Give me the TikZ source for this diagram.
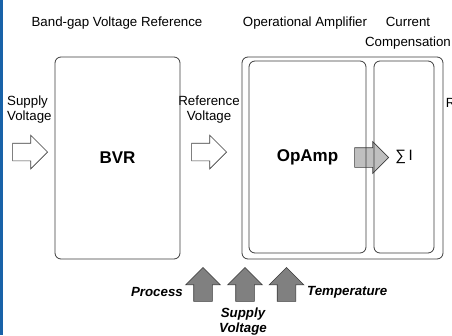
\documentclass[tikz,border=0pt]{standalone}
\usepackage{fontspec}
\setmainfont{Liberation Sans}
\usetikzlibrary{shapes.arrows,positioning}

\definecolor{edgeblue}{RGB}{24,98,168}
\definecolor{boxline}{RGB}{60,60,60}

\tikzset{
  txt/.style={inner sep=0pt, font=\fontsize{13.3}{15}\selectfont},
  influence/.style={inner sep=0pt, font=\fontsize{13.3}{15}\selectfont\bfseries\itshape},
  block/.style={draw=boxline, line width=0.8pt, rounded corners=6pt, inner sep=0pt},
  blockname/.style={font=\fontsize{17}{20}\selectfont\bfseries},
  bigarrow/.style={single arrow, draw=boxline, line width=0.6pt, inner xsep=0pt,
    inner ysep=8.5pt, single arrow head extend=8pt, anchor=tip},
}

\begin{document}
\begin{tikzpicture}[x=1pt,y=-1pt]
\useasboundingbox (0,0) rectangle (452,335);
\fill[edgeblue] (0,0) rectangle (2.5,335);

\node[txt] (t1) at (117,23) {Band-gap Voltage Reference};
\node[txt] (t2) at (305,23) {Operational Amplifier};
\node[txt, align=center, font=\fontsize{13.3}{20}\selectfont] (t3) at (408,33) {Current\\Compensation};

\node[txt, align=left, anchor=west] (sv) at (7,110) {Supply\\Voltage};
\node[txt, align=center] (rv) at (209,110) {Reference\\Voltage};
\node[txt, align=center] (rc) at (476.5,110) {Reference\\Current};

\node[bigarrow, fill=white, minimum height=35pt] (a1) at (48,152) {};
\node[bigarrow, fill=white, minimum height=35pt] (a2) at (227,152) {};
\node[bigarrow, fill=black!25, minimum height=34pt, inner ysep=9.5pt,
  single arrow head extend=6pt] (a3) at (389,157.5) {};

\node[block, blockname, minimum width=125pt, minimum height=202pt] (bvr) at (117.5,158) {BVR};
\node[block, minimum width=201pt, minimum height=202pt] (amp) at (342.5,158) {};
\node[block, blockname, minimum width=117pt, minimum height=192pt] (opamp) at (307.5,157) {OpAmp};
\node[block, txt, minimum width=60pt, minimum height=192pt] (comp) at (404,157) {\fontsize{15}{15}\selectfont∑\,I};

\node[bigarrow, rotate=90, fill=black!50, minimum height=34pt, inner ysep=9pt] (p1) at (203,267) {};
\node[bigarrow, rotate=90, fill=black!50, minimum height=34pt, inner ysep=9pt] (p2) at (245,267) {};
\node[bigarrow, rotate=90, fill=black!50, minimum height=34pt, inner ysep=9pt] (p3) at (286.5,267) {};

\node[influence, anchor=east] (pr) at (183,292) {Process};
\node[influence, align=center] (su) at (243,322) {Supply\\Voltage};
\node[influence, anchor=west] (te) at (307,292) {Temperature};

\end{tikzpicture}
\end{document}
